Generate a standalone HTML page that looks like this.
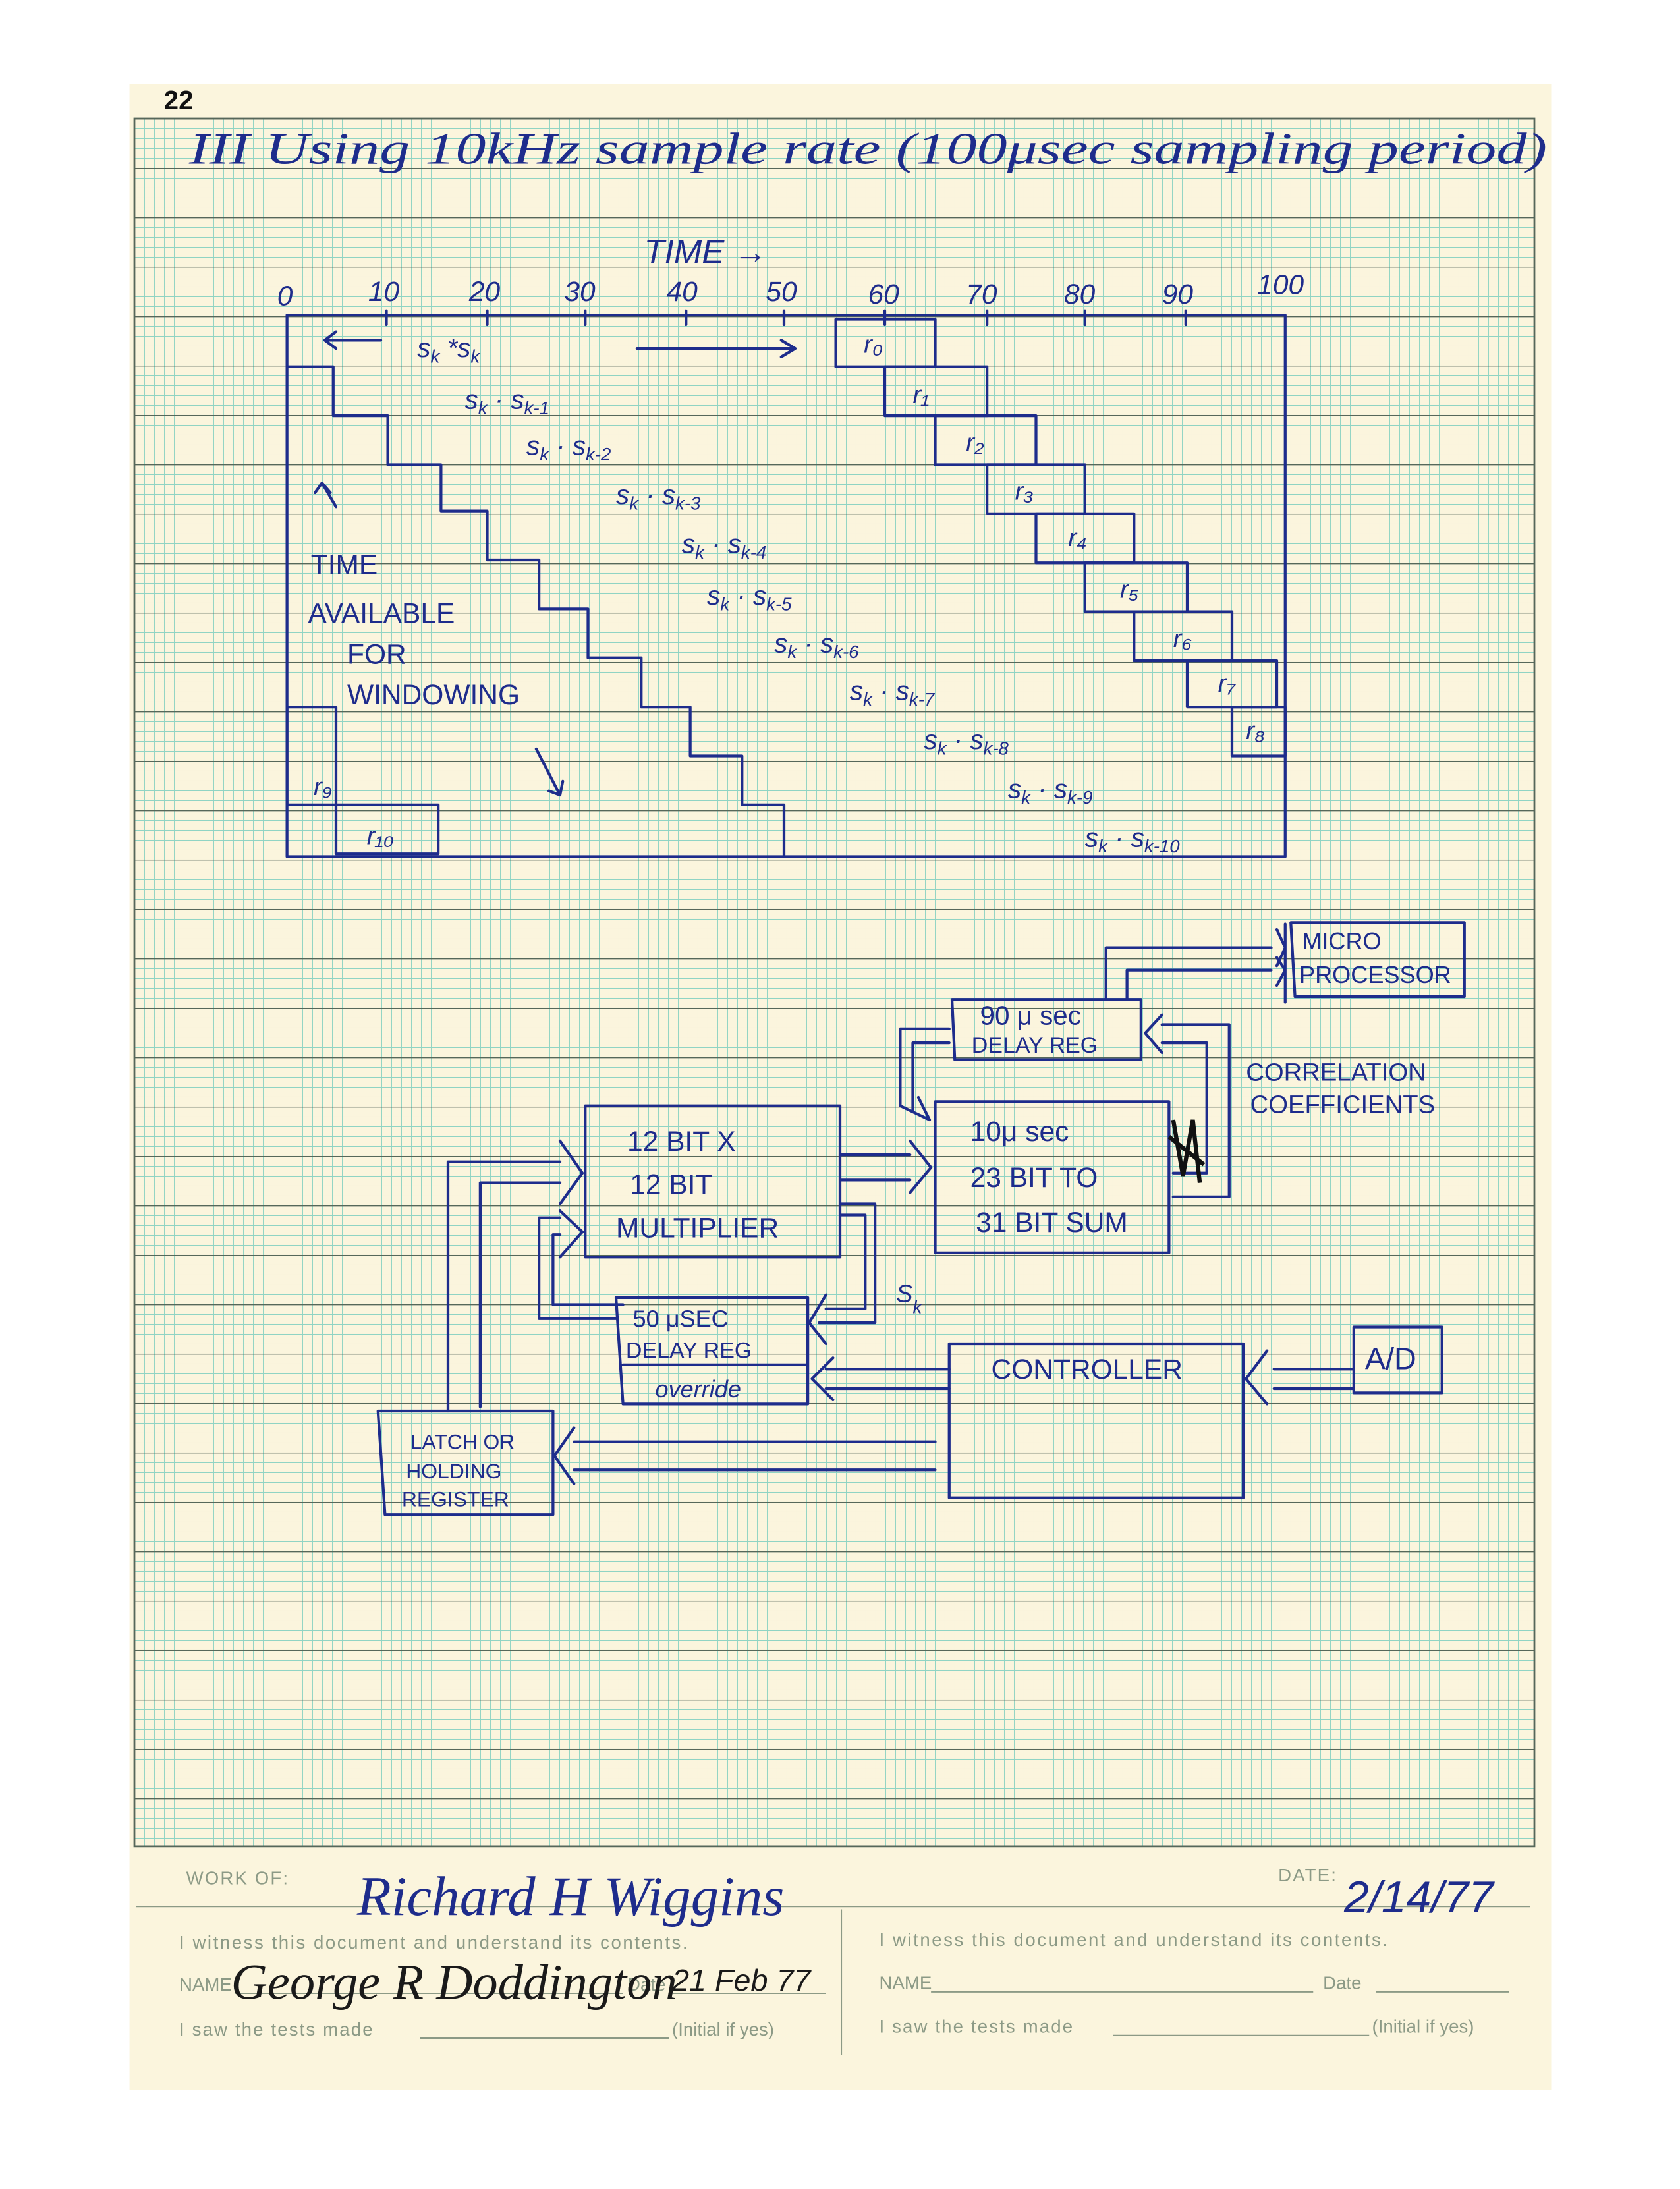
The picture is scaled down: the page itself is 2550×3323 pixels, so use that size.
<!DOCTYPE html>
<html><head><meta charset="utf-8"><style>
html,body{margin:0;padding:0;background:#fff;}
svg{display:block;}
.ink{fill:none;stroke:#1e2c8c;stroke-width:2;stroke-linejoin:round;stroke-linecap:round;}
.t{font-family:"Liberation Sans",sans-serif;fill:#1e2c8c;font-style:italic;}
.b{font-family:"Liberation Sans",sans-serif;fill:#1e2c8c;}
.g{font-family:"Liberation Sans",sans-serif;fill:#8c9a86;}
</style></head><body>
<svg width="2550" height="3323" viewBox="0 0 1200 1563.76" xmlns="http://www.w3.org/2000/svg">
<defs>
<pattern id="fine" x="96" y="84.7" width="7.0588" height="7.0588" patternUnits="userSpaceOnUse">
<path d="M0,0 V7.0588 M0,0 H7.0588" stroke="#8fd4c3" stroke-width="0.9" fill="none"/>
</pattern>
<pattern id="major" x="96" y="84.7" width="1200" height="35.294" patternUnits="userSpaceOnUse">
<path d="M0,0 H1200" stroke="#56675a" stroke-width="1.3" fill="none"/>
</pattern>
</defs>
<rect x="92.5" y="60" width="1015.5" height="1433" fill="#fbf5dd"/>
<rect x="96" y="84.7" width="1000" height="1234.3" fill="url(#fine)"/>
<rect x="96" y="84.7" width="1000" height="1234.3" fill="url(#major)"/>
<rect x="96" y="84.7" width="1000" height="1234.3" fill="none" stroke="#56675a" stroke-width="1.3"/>
<text x="117" y="78" font-family="Liberation Sans" font-weight="bold" font-size="19" fill="#111">22</text>

<!-- title -->
<text x="135" y="117" font-family="Liberation Serif" font-style="italic" fill="#1e2c8c" font-size="32" textLength="970" lengthAdjust="spacingAndGlyphs">III   Using  10kHz  sample  rate  (100μsec  sampling  period)</text>
<text class="t" x="460" y="188" font-size="24">TIME →</text>
<g class="t" font-size="20">
<text x="198" y="218">0</text><text x="263" y="215">10</text><text x="335" y="215">20</text><text x="403" y="215">30</text><text x="476" y="215">40</text><text x="547" y="215">50</text><text x="620" y="217">60</text><text x="690" y="217">70</text><text x="760" y="217">80</text><text x="830" y="217">90</text><text x="898" y="210">100</text>
</g>
<!-- chart -->
<path class="ink" d="M205,225 H918 V612 H205 Z"/>
<path class="ink" d="M276,222 V232 M348,222 V232 M418,222 V232 M490,222 V232 M560,222 V232 M632,222 V232 M705,222 V232 M775,222 V232 M847,222 V232"/>
<path class="ink" d="M205,262 H238 V297 H277 V332 H315 V365 H348 V400 H385 V435 H420 V470 H458 V505 H493 V540 H530 V575 H560 V612"/>
<g class="ink">
<rect x="597" y="228" width="71" height="34"/>
<rect x="632" y="262" width="73" height="35"/>
<rect x="668" y="297" width="72" height="35"/>
<rect x="705" y="332" width="70" height="35"/>
<rect x="740" y="367" width="70" height="35"/>
<rect x="775" y="402" width="73" height="35"/>
<rect x="810" y="437" width="70" height="35"/>
<rect x="848" y="472" width="64" height="33"/>
<rect x="880" y="505" width="38" height="35"/>
<rect x="205" y="505" width="35" height="70"/>
<rect x="240" y="575" width="73" height="35"/>
</g>
<g class="t" font-size="18">
<text x="617" y="252">r₀</text><text x="652" y="288">r₁</text><text x="690" y="322">r₂</text><text x="725" y="357">r₃</text><text x="763" y="390">r₄</text><text x="800" y="427">r₅</text><text x="838" y="462">r₆</text><text x="870" y="494">r₇</text><text x="890" y="528">r₈</text><text x="224" y="568">r₉</text><text x="262" y="603">r₁₀</text>
</g>
<path class="ink" d="M272,243 H232 M240,237 L232,243 L240,249 M455,249 H568 M558,243 L568,249 L558,255"/>
<g class="t" font-size="19">
<text x="298" y="255">s<tspan font-size="13" dy="4">k</tspan><tspan dy="-4"> *s</tspan><tspan font-size="13" dy="4">k</tspan></text>
<text x="332" y="292">s<tspan font-size="13" dy="4">k</tspan><tspan dy="-4"> · s</tspan><tspan font-size="13" dy="4">k-1</tspan></text>
<text x="376" y="325">s<tspan font-size="13" dy="4">k</tspan><tspan dy="-4"> · s</tspan><tspan font-size="13" dy="4">k-2</tspan></text>
<text x="440" y="360">s<tspan font-size="13" dy="4">k</tspan><tspan dy="-4"> · s</tspan><tspan font-size="13" dy="4">k-3</tspan></text>
<text x="487" y="395">s<tspan font-size="13" dy="4">k</tspan><tspan dy="-4"> · s</tspan><tspan font-size="13" dy="4">k-4</tspan></text>
<text x="505" y="432">s<tspan font-size="13" dy="4">k</tspan><tspan dy="-4"> · s</tspan><tspan font-size="13" dy="4">k-5</tspan></text>
<text x="553" y="466">s<tspan font-size="13" dy="4">k</tspan><tspan dy="-4"> · s</tspan><tspan font-size="13" dy="4">k-6</tspan></text>
<text x="607" y="500">s<tspan font-size="13" dy="4">k</tspan><tspan dy="-4"> · s</tspan><tspan font-size="13" dy="4">k-7</tspan></text>
<text x="660" y="535">s<tspan font-size="13" dy="4">k</tspan><tspan dy="-4"> · s</tspan><tspan font-size="13" dy="4">k-8</tspan></text>
<text x="720" y="570">s<tspan font-size="13" dy="4">k</tspan><tspan dy="-4"> · s</tspan><tspan font-size="13" dy="4">k-9</tspan></text>
<text x="775" y="605">s<tspan font-size="13" dy="4">k</tspan><tspan dy="-4"> · s</tspan><tspan font-size="13" dy="4">k-10</tspan></text>
</g>
<g class="b" font-size="20">
<text x="222" y="410">TIME</text><text x="220" y="445">AVAILABLE</text><text x="248" y="474">FOR</text><text x="248" y="503">WINDOWING</text>
</g>
<path class="ink" d="M240,362 L230,345 M225,352 L230,345 L236,352 M383,535 L400,568 M392,565 L400,568 L402,558"/>

<!-- block diagram -->
<g class="ink">
<path d="M922,659 H1046 V712 H925 Z"/>
<path d="M790,714 V677 H908 M912,664 L918,677 L912,690 M805,714 V693 H908 M912,684 L918,693 L912,704 M918,660 V716"/>
<path d="M680,714 H815 V757 H682 Z"/>
<path d="M668,787 H835 V895 H668 Z"/>
<path d="M418,790 H600 V898 H418 Z"/>
<path d="M678,735 H643 V790 L664,800 M656,784 L664,800 M678,745 H652 V793"/>
<path d="M818,738 L830,725 M818,738 L830,752 M830,732 H878 V855 H838 M830,745 H862 V838 H838"/>
<path d="M600,825 H650 M600,843 H650 M650,815 L665,834 L650,852"/>
<path d="M343,1005 V845 H400 M320,1008 V830 H400 M400,815 L416,838 L400,860"/>
<path d="M400,870 H385 V942 H440 M400,882 H395 V932 H445 M400,865 L416,880 L400,898"/>
<path d="M600,860 H625 V945 H585 M600,868 L618,868 V935 H590 M590,925 L578,945 L590,960"/>
<path d="M440,927 H577 V1003 H445 Z M445,975 H577"/>
<path d="M678,960 H888 V1070 H678 Z"/>
<path d="M967,948 H1030 V995 H967 Z"/>
<path d="M967,978 H910 M967,992 H910 M905,965 L890,985 L905,1003"/>
<path d="M678,978 H590 M678,992 H590 M595,970 L580,985 L595,1000"/>
<path d="M270,1008 H395 V1082 H275 Z"/>
<path d="M668,1030 H410 M668,1050 H410 M410,1020 L396,1040 L410,1060"/>
</g>
<path d="M838,800 L845,840 L852,800 L857,845 M835,812 L860,832" stroke="#111" stroke-width="3" fill="none"/>
<g class="b" font-size="20">
<text x="930" y="678" font-size="17">MICRO</text><text x="928" y="702" font-size="17">PROCESSOR</text>
<text x="700" y="732" font-size="19">90 μ sec</text><text x="694" y="752" font-size="16">DELAY REG</text>
<text x="890" y="772" font-size="18">CORRELATION</text><text x="893" y="795" font-size="18">COEFFICIENTS</text>
<text x="693" y="815">10μ sec</text><text x="693" y="848">23 BIT TO</text><text x="697" y="880">31 BIT SUM</text>
<text x="448" y="822">12 BIT X</text><text x="450" y="853">12 BIT</text><text x="440" y="884">MULTIPLIER</text>
<text x="452" y="948" font-size="17">50 μSEC</text><text x="447" y="970" font-size="16">DELAY REG</text>
<text x="468" y="998" font-size="17" font-style="italic">override</text>
<text x="708" y="985">CONTROLLER</text>
<text x="975" y="978" font-size="22">A/D</text>
<text x="293" y="1035" font-size="15">LATCH OR</text><text x="290" y="1056" font-size="15">HOLDING</text><text x="287" y="1076" font-size="15">REGISTER</text>
<text class="t" x="640" y="930" font-size="18">S<tspan font-size="13" dy="8">k</tspan></text>
</g>

<!-- footer -->
<g class="g" font-size="13">
<text x="133" y="1346" letter-spacing="1">WORK  OF:</text>
<text x="913" y="1344" letter-spacing="1">DATE:</text>
<text x="128" y="1392" letter-spacing="1.2">I  witness  this  document  and  understand  its  contents.</text>
<text x="628" y="1390" letter-spacing="1.2">I  witness  this  document  and  understand  its  contents.</text>
<text x="128" y="1422">NAME</text><text x="448" y="1422">Date</text>
<text x="628" y="1421">NAME</text><text x="945" y="1421">Date</text>
<text x="128" y="1454" letter-spacing="1">I  saw  the  tests  made</text><text x="480" y="1454">(Initial if yes)</text>
<text x="628" y="1452" letter-spacing="1">I  saw  the  tests  made</text><text x="980" y="1452">(Initial if yes)</text>
</g>
<path d="M97,1362 H1093 M168,1424 H445 M478,1424 H590 M665,1423 H938 M983,1423 H1078 M300,1456 H478 M795,1454 H978 M601,1364 V1468" stroke="#8c9a86" stroke-width="0.9" fill="none"/>
<text x="255" y="1368" font-size="40" font-family="Liberation Serif" font-style="italic" fill="#1e2c8c">Richard  H  Wiggins</text>
<text class="t" x="960" y="1366" font-size="32">2/14/77</text>
<text x="165" y="1428" font-family="Liberation Serif" font-style="italic" font-size="36" fill="#1a1a1a">George R Doddington</text>
<text x="480" y="1422" font-family="Liberation Sans" font-style="italic" font-size="22" fill="#1a1a1a">21 Feb 77</text>
</svg>
</body></html>
